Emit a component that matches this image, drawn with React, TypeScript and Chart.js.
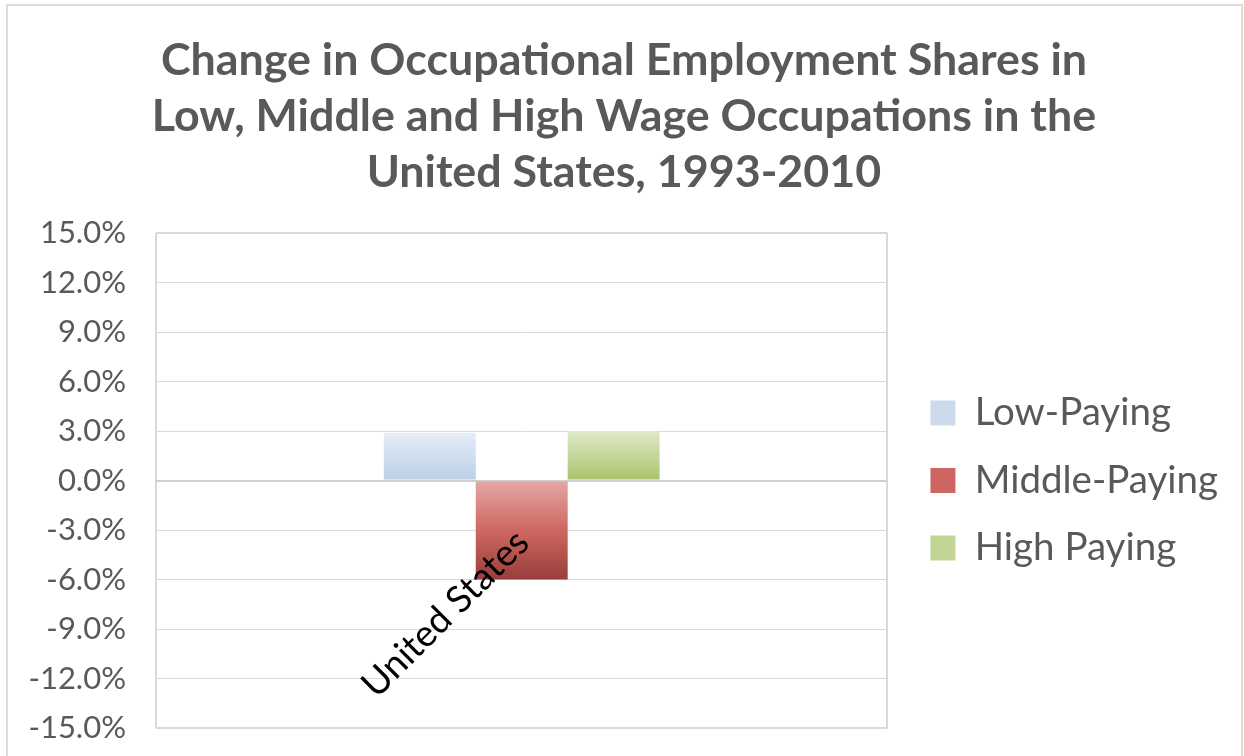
import React, { useEffect, useRef } from "react";
import { Chart, registerables } from "chart.js";

Chart.register(...registerables);

const categories = ["United States"];
const seriesNames = ["Low-Paying", "Middle-Paying", "High Paying"];
const lowPaying = [2.9];
const middlePaying = [-6.0];
const highPaying = [3.0];
const yTicks = { min: -15, max: 15, step: 3 };
const titleLines = [
  "Change in Occupational Employment Shares in",
  "Low, Middle and High Wage Occupations in the",
  "United States, 1993-2010",
];

const FONT = "Lato, 'Open Sans', sans-serif";

const lowStops: [number, string][] = [[0, "#e5edf7"], [1, "#bccfe6"]];
const midStops: [number, string][] = [[0, "#e4a8a6"], [0.5, "#cf6761"], [1, "#983e3a"]];
const highStops: [number, string][] = [[0, "#e0e9ca"], [1, "#a9c36a"]];
const legendColors = ["#ccdaec", "#cd6661", "#c2d595"];

function barGradient(stops: [number, string][]) {
  return (ctx: any) => {
    const chart = ctx.chart;
    const area = chart.chartArea;
    if (!area || ctx.type !== "data") return stops[0][1];
    const ys = chart.scales.y;
    const v = ctx.raw as number;
    const top = ys.getPixelForValue(Math.max(v, 0));
    const bot = ys.getPixelForValue(Math.min(v, 0));
    const g = chart.ctx.createLinearGradient(0, top, 0, bot);
    stops.forEach(([o, c]) => g.addColorStop(o, c));
    return g;
  };
}

const categoryLabelPlugin = {
  id: "rotatedCategory",
  afterDatasetsDraw(chart: any) {
    const { ctx, scales } = chart;
    const xs = scales.x;
    const ys = scales.y;
    ctx.save();
    ctx.font = `37px ${FONT}`;
    ctx.fillStyle = "#000000";
    ctx.textAlign = "right";
    ctx.textBaseline = "middle";
    categories.forEach((c, i) => {
      const px = xs.getPixelForValue(i);
      const py = ys.getPixelForValue(0);
      ctx.save();
      ctx.translate(px + 1, py + 56);
      ctx.rotate(-Math.PI / 4);
      ctx.fillText(c, 0, 0);
      ctx.restore();
    });
    ctx.restore();
  },
};

export default function App() {
  const ref = useRef<HTMLCanvasElement>(null);
  useEffect(() => {
    if (!ref.current) return;
    const edge = (v: number) => v === yTicks.min || v === yTicks.max || v === 0;
    const chart = new Chart(ref.current, {
      type: "bar",
      data: {
        labels: categories,
        datasets: [
          { label: seriesNames[0], data: lowPaying, backgroundColor: barGradient(lowStops) },
          { label: seriesNames[1], data: middlePaying, backgroundColor: barGradient(midStops) },
          { label: seriesNames[2], data: highPaying, backgroundColor: barGradient(highStops) },
        ],
      },
      options: {
        animation: false,
        responsive: true,
        maintainAspectRatio: false,
        layout: { padding: { left: 20, right: 16, top: 0, bottom: 28 } },
        datasets: { bar: { categoryPercentage: 0.377, barPercentage: 1, borderWidth: 0 } },
        scales: {
          x: {
            type: "category",
            offset: true,
            afterFit: (s: any) => { s.height = 0; },
            ticks: { display: false },
            border: { display: false },
            grid: { display: true, offset: true, color: "#d9d9d9", lineWidth: 2, drawTicks: false },
          },
          y: {
            min: yTicks.min,
            max: yTicks.max,
            afterFit: (s: any) => {
              s.width = 136;
              s.paddingTop = 0;
              s.paddingBottom = 0;
            },
            ticks: {
              stepSize: yTicks.step,
              padding: 30,
              color: "#595959",
              font: { family: FONT, size: 31 },
              callback: (v: any) => Number(v).toFixed(1) + "%",
            },
            border: { display: false },
            grid: {
              color: (c: any) => (c.tick && c.tick.value === 0 ? "#cfcfcf" : "#d9d9d9"),
              lineWidth: (c: any) => (c.tick && edge(c.tick.value) ? 2 : 1),
              drawTicks: false,
            },
          },
          spacer: {
            type: "linear",
            position: "right",
            display: true,
            afterFit: (s: any) => { s.width = 14; },
            ticks: { display: false },
            grid: { display: false, drawTicks: false },
            border: { display: false },
          },
        },
        plugins: {
          tooltip: { enabled: false },
          title: {
            display: true,
            text: titleLines,
            color: "#595959",
            font: { family: FONT, size: 44.8, weight: "bold", lineHeight: "56px" },
            padding: { top: 33, bottom: 32 },
          },
          legend: {
            position: "right",
            align: "center",
            fullSize: false,
            maxWidth: 420,
            labels: {
              boxWidth: 25,
              boxHeight: 25,
              padding: 29,
              color: "#595959",
              font: { family: FONT, size: 38.5 },
              generateLabels: (ch: any) =>
                ch.data.datasets.map((d: any, i: number) => ({
                  text: d.label,
                  fillStyle: legendColors[i],
                  strokeStyle: legendColors[i],
                  lineWidth: 0,
                  hidden: false,
                  datasetIndex: i,
                  fontColor: "#595959",
                })),
            },
          },
        },
      },
      plugins: [categoryLabelPlugin],
    } as any);
    return () => chart.destroy();
  }, []);

  return (
    <div style={{ position: "fixed", left: 0, top: 0, width: 1244, height: 756, background: "#fff", overflow: "hidden" }}>
      <div
        style={{
          position: "absolute",
          left: 6,
          top: 4,
          width: 1237,
          height: 820,
          border: "2px solid #dcdcdc",
          boxSizing: "border-box",
        }}
      />
      <div style={{ position: "absolute", left: 0, top: 0, width: 1244, height: 756 }}>
        <canvas ref={ref} />
      </div>
    </div>
  );
}
